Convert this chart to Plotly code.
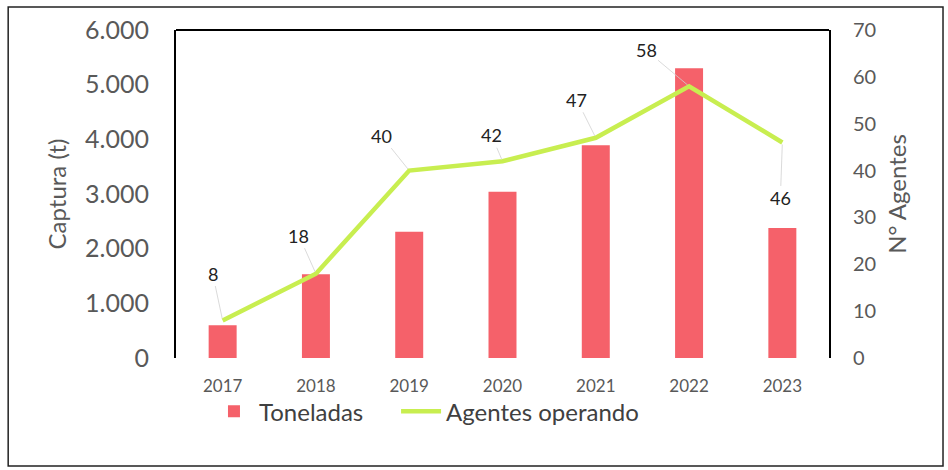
"""
Captura anual (t) y número de agentes operando, 2017-2023.
"""

import plotly.graph_objects as go

years = ["2017", "2018", "2019", "2020", "2021", "2022", "2023"]
toneladas = [600, 1530, 2310, 3040, 3890, 5300, 2380]
agentes = [8, 18, 40, 42, 47, 58, 46]

# label offsets (px) for the agent counts, leader lines drawn by the arrows
label_dx = [-10, -17, -28, -11, -19, -43, -2]
label_dy = [-47, -38, -35, -26, -38, -36, 56]

BAR_RED = "#F5616A"
LINE_GREEN = "#C8EE50"
GREY = "#595959"
FONT = "Lato, Carlito, sans-serif"

fig = go.Figure()
fig.add_trace(go.Bar(
    x=years, y=toneladas, name="Toneladas", legend="legend",
    marker=dict(color=BAR_RED, line=dict(width=0)),
    width=0.3,
))
fig.add_trace(go.Scatter(
    x=years, y=agentes, name="Agentes operando", yaxis="y2", legend="legend2",
    mode="lines", line=dict(color=LINE_GREEN, width=4.5),
))

# category axis: annotations take the category index (a "2017" string would be read as 2017)
for i, (val, dx, dy) in enumerate(zip(agentes, label_dx, label_dy)):
    fig.add_annotation(
        x=i, y=val, yref="y2", text=str(val),
        showarrow=True, arrowhead=0, arrowwidth=0.8, arrowcolor="#d0d0d0",
        ax=dx, ay=dy, standoff=2,
        font=dict(family=FONT, size=18, color="#222222"),
    )

# top edge of the frame and outer border
fig.add_shape(type="line", xref="paper", yref="paper", x0=0, x1=1, y0=1, y1=1,
              line=dict(color="black", width=2))
fig.add_shape(type="rect", xref="paper", yref="paper",
              x0=-0.257, x1=1.1746, y0=-0.329, y1=1.07,
              line=dict(color="#222222", width=1.5))

legend_common = dict(
    orientation="h", xanchor="left", y=-0.095, yanchor="top",
    font=dict(size=24, color="#404040"), itemwidth=40,
    bgcolor="rgba(0,0,0,0)",
)

fig.update_layout(
    width=948, height=470,
    margin=dict(l=176, r=119, t=30, b=112),
    paper_bgcolor="white", plot_bgcolor="white",
    separators=",.",
    font=dict(family=FONT, color=GREY),
    showlegend=True,
    legend=dict(x=0.0505, **legend_common),
    legend2=dict(x=0.337, **legend_common),
    xaxis=dict(
        type="category", automargin=False, range=[-0.5, 6.5],
        showgrid=False, showline=False, ticks="", ticklabelstandoff=16,
        tickfont=dict(size=17, color=GREY),
    ),
    yaxis=dict(
        range=[0, 6000], dtick=1000, tickformat=",", automargin=False,
        showgrid=False, showline=True, linecolor="black", linewidth=2,
        ticks="", ticklabelstandoff=20,
        tickfont=dict(size=25, color=GREY),
        title=dict(text="Captura (t)", font=dict(size=24, color=GREY), standoff=12),
        zeroline=False,
    ),
    yaxis2=dict(
        range=[0, 70], dtick=10, overlaying="y", side="right", automargin=False,
        showgrid=False, showline=True, linecolor="black", linewidth=2,
        ticks="", ticklabelstandoff=18,
        tickfont=dict(size=20, color=GREY),
        title=dict(text="N° Agentes", font=dict(size=24, color=GREY), standoff=14),
        zeroline=False,
    ),
)

fig.write_html("out.html", config={"displayModeBar": False},
               post_script="document.body.style.margin='0';")
